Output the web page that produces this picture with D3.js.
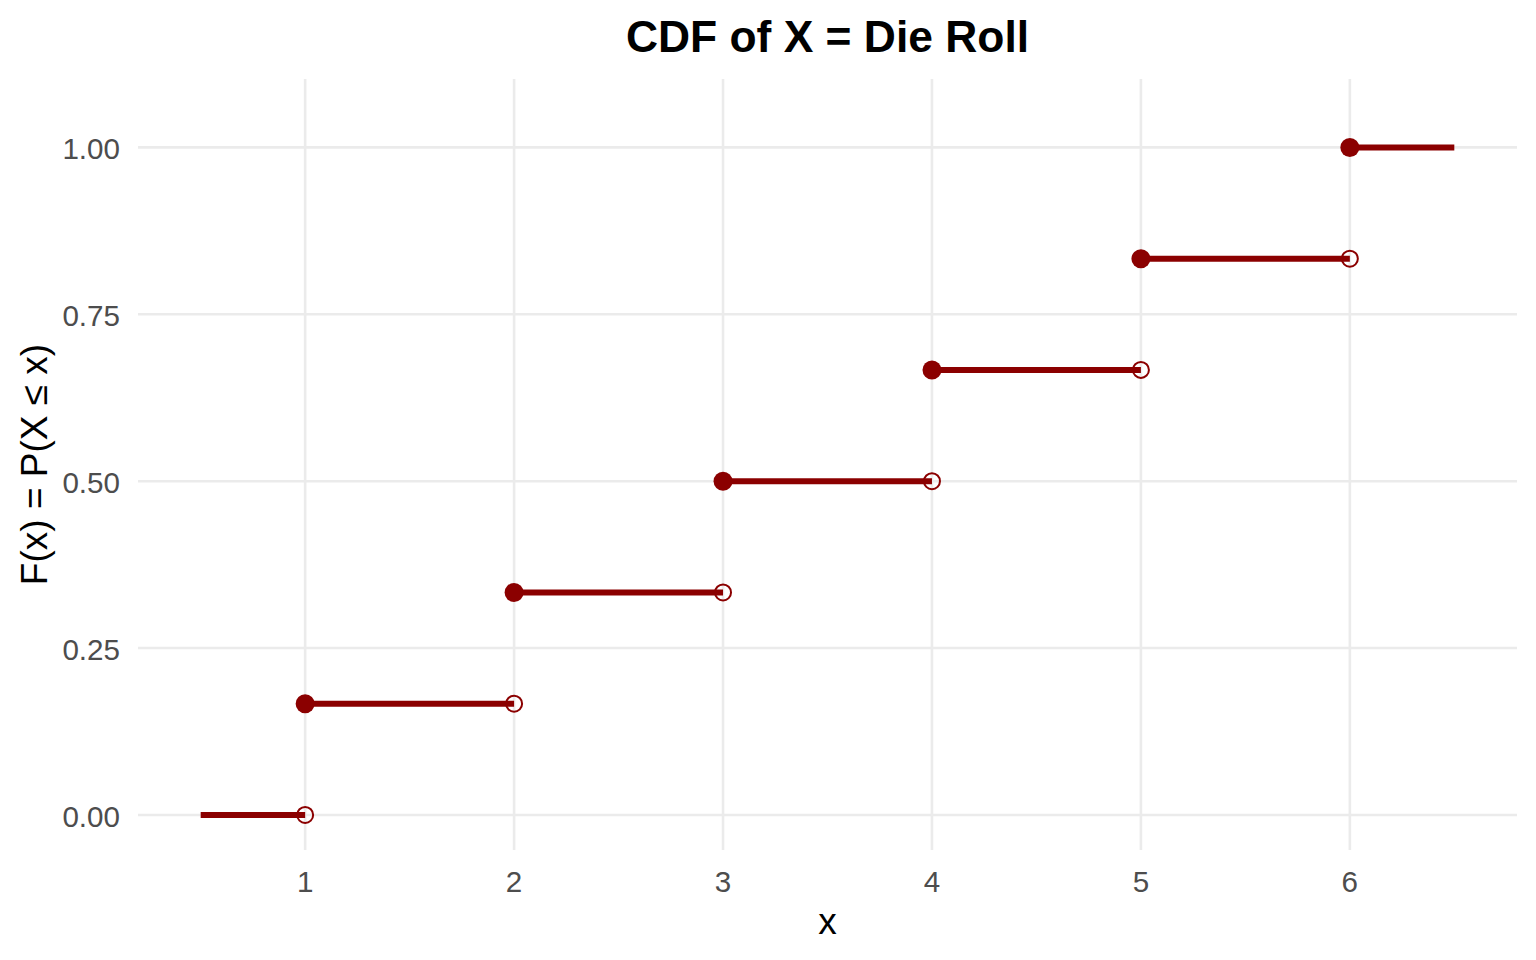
<!DOCTYPE html>
<html>
<head>
<meta charset="utf-8">
<script src="https://cdn.jsdelivr.net/npm/d3@7"></script>
<style>
  body { margin: 0; background: #fff; }
  svg { display: block; font-family: "Liberation Sans", Arial, sans-serif; }
</style>
</head>
<body>
<div id="chart"></div>
<script>
// CDF of a fair die: one step per face
const segStart = [0.5, 1, 2, 3, 4, 5, 6];
const segEnd   = [1, 2, 3, 4, 5, 6, 6.5];
const cdfVals  = [0, 0.1667, 0.3333, 0.5, 0.6667, 0.8333, 1];
const faces    = [1, 2, 3, 4, 5, 6];
const yTicks   = [0, 0.25, 0.5, 0.75, 1];
const xTicks   = [1, 2, 3, 4, 5, 6];

const width = 1536, height = 960;
const panel = {left: 138, right: 1517, top: 79, bottom: 850};
const red = '#8B0000';

const svg = d3.select('#chart').append('svg')
    .attr('width', width)
    .attr('height', height);

const x = d3.scaleLinear().domain([0.2, 6.8]).range([panel.left, panel.right]);
const y = d3.scaleLinear().domain([-0.0525, 1.1025]).range([panel.bottom, panel.top]);

// grid
svg.append('g').selectAll('line')
    .data(yTicks).enter().append('line')
    .attr('x1', panel.left).attr('x2', panel.right)
    .attr('y1', d => y(d)).attr('y2', d => y(d))
    .attr('stroke', '#EBEBEB').attr('stroke-width', 2.6);

svg.append('g').selectAll('line')
    .data(xTicks).enter().append('line')
    .attr('x1', d => x(d)).attr('x2', d => x(d))
    .attr('y1', panel.top).attr('y2', panel.bottom)
    .attr('stroke', '#EBEBEB').attr('stroke-width', 2.6);

// tick labels
svg.append('g').selectAll('text')
    .data(yTicks).enter().append('text')
    .attr('x', 120)
    .attr('y', d => y(d) + 12)
    .attr('text-anchor', 'end')
    .style('font-size', '29.6px')
    .style('fill', '#4D4D4D')
    .text(d => d3.format('.2f')(d));

svg.append('g').selectAll('text')
    .data(xTicks).enter().append('text')
    .attr('x', d => x(d))
    .attr('y', 892)
    .attr('text-anchor', 'middle')
    .style('font-size', '29.6px')
    .style('fill', '#4D4D4D')
    .text(d => d);

// open circles at the left limit of each jump
svg.append('g').selectAll('circle')
    .data(faces).enter().append('circle')
    .attr('cx', d => x(d))
    .attr('cy', (d, i) => y(cdfVals[i]))
    .attr('r', 8)
    .attr('fill', 'none')
    .attr('stroke', red)
    .attr('stroke-width', 2);

// horizontal steps
svg.append('g').selectAll('line')
    .data(segStart).enter().append('line')
    .attr('x1', d => x(d))
    .attr('x2', (d, i) => x(segEnd[i]))
    .attr('y1', (d, i) => y(cdfVals[i]))
    .attr('y2', (d, i) => y(cdfVals[i]))
    .attr('stroke', red)
    .attr('stroke-width', 6);

// filled points where the jump lands
svg.append('g').selectAll('circle')
    .data(faces).enter().append('circle')
    .attr('cx', d => x(d))
    .attr('cy', (d, i) => y(cdfVals[i + 1]))
    .attr('r', 9.5)
    .attr('fill', red);

// titles
svg.append('text')
    .attr('x', (panel.left + panel.right) / 2)
    .attr('y', 52)
    .attr('text-anchor', 'middle')
    .style('font-size', '44.4px')
    .style('font-weight', 'bold')
    .text('CDF of X = Die Roll');

svg.append('text')
    .attr('x', (panel.left + panel.right) / 2)
    .attr('y', 934)
    .attr('text-anchor', 'middle')
    .style('font-size', '37px')
    .text('x');

svg.append('text')
    .attr('transform', `translate(47,${(panel.top + panel.bottom) / 2}) rotate(-90)`)
    .attr('text-anchor', 'middle')
    .style('font-size', '37px')
    .text('F(x) = P(X ≤ x)');
</script>
</body>
</html>
